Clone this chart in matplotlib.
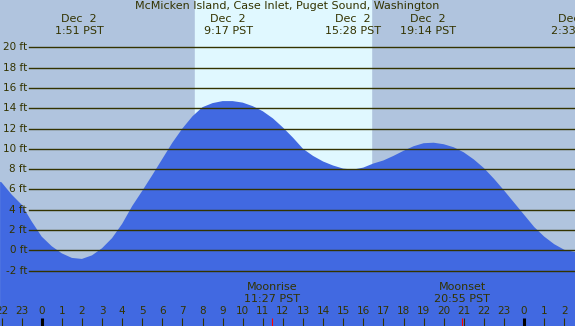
import matplotlib
matplotlib.use("Agg")
import matplotlib.pyplot as plt

# tide height (ft) read every half hour, hours relative to Dec 2 00:00 PST
hours = [-2.07, -2.0, -1.5, -1.0, -0.5, 0.0, 0.5, 1.0, 1.5, 2.0, 2.5, 3.0, 3.5,
         4.0, 4.5, 5.0, 5.5, 6.0, 6.5, 7.0, 7.5, 8.0, 8.5, 9.0, 9.5, 10.0,
         10.5, 11.0, 11.5, 12.0, 12.5, 13.0, 13.5, 14.0, 14.5, 15.0, 15.5,
         16.0, 16.5, 17.0, 17.5, 18.0, 18.5, 19.0, 19.5, 20.0, 20.5, 21.0,
         21.5, 22.0, 22.5, 23.0, 23.5, 24.0, 24.5, 25.0, 25.5, 26.0, 26.5, 26.6]
heights = [6.75, 6.7, 5.5, 4.5, 2.85, 1.35, 0.4, -0.3, -0.75, -0.85, -0.5, 0.2, 1.2,
           2.6, 4.35, 5.85, 7.4, 9.0, 10.6, 12.0, 13.2, 14.1, 14.5, 14.7, 14.7, 14.55,
           14.2, 13.7, 13.0, 12.1, 11.1, 10.0, 9.3, 8.75, 8.35, 8.05, 7.95,
           8.15, 8.55, 8.85, 9.3, 9.8, 10.25, 10.55, 10.6, 10.45, 10.15, 9.65,
           8.95, 8.1, 7.05, 5.9, 4.7, 3.5, 2.3, 1.35, 0.6, 0.05, -0.15, -0.17]

# tide extremes shown on top
event_hours = [1.85, 9.283, 15.467, 19.233, 26.55]
event_labels = ["1:51 PST", "9:17 PST", "15:28 PST", "19:14 PST", "2:33 PST"]

sunrise, sunset = 7.63, 16.38
moon_hours = [11.45, 20.917]
moon_labels = [("Moonrise", "11:27 PST"), ("Moonset", "20:55 PST")]

grid_ft = list(range(-2, 21, 2))
tick_hours = list(range(-2, 27))

NIGHT = "#b0c4de"
DAY = "#e0f8ff"
WATER = "#4169e1"
INK = "#333300"

W, H = 575, 326
x0_px, px_per_hr = 41.7, 20.1
zero_px, px_per_ft = 250.3, 10.15


def ft_at(py):
    return (zero_px - py) / px_per_ft


def hr_at(px):
    return (px - x0_px) / px_per_hr


fig = plt.figure(figsize=(W / 100, H / 100), dpi=100)
ax = fig.add_axes([0, 0, 1, 1])
ax.set_xlim(hr_at(0), hr_at(W))
ax.set_ylim(ft_at(H), ft_at(0))
ax.axis("off")
ax.set_facecolor(NIGHT)
fig.patch.set_facecolor(NIGHT)

ax.axvspan(sunrise, sunset, color=DAY, zorder=0)
ax.fill_between(hours, heights, ft_at(H), color=WATER, lw=0, zorder=1)

# grid lines with labels
for v in grid_ft:
    ax.plot([hr_at(29), hr_at(W)], [v, v], color=INK, lw=1, zorder=2)
    ax.text(hr_at(27), v, f"{v} ft", ha="right", va="center", fontsize=7.5,
            color=INK, zorder=3)

ax.text(hr_at(287), ft_at(6.5), "McMicken Island, Case Inlet, Puget Sound, Washington",
        ha="center", va="center", fontsize=8, color=INK)
for h, lab in zip(event_hours, event_labels):
    ax.text(h, ft_at(19), "Dec  2", ha="center", va="center", fontsize=8, color=INK)
    ax.text(h, ft_at(31.5), lab, ha="center", va="center", fontsize=8, color=INK)

# hour ticks
for h in tick_hours:
    ax.text(h, ft_at(311.5), str(h % 24), ha="center", va="center", fontsize=7.5,
            color=INK)
    lw = 2.2 if h % 24 == 0 else 0.8
    col = "black" if h % 24 == 0 else INK
    ax.plot([h, h], [ft_at(318), ft_at(H)], color=col, lw=lw,
            solid_capstyle="butt", zorder=3)

for h, (name, t) in zip(moon_hours, moon_labels):
    ax.plot([h, h], [ft_at(318), ft_at(H)], color="red", lw=0.8,
            solid_capstyle="butt", zorder=3)
    ax.text(h, ft_at(287.5), name, ha="center", va="center", fontsize=8, color=INK)
    ax.text(h, ft_at(299.5), t, ha="center", va="center", fontsize=8, color=INK)

fig.savefig("out.png", dpi=100, facecolor=NIGHT)
